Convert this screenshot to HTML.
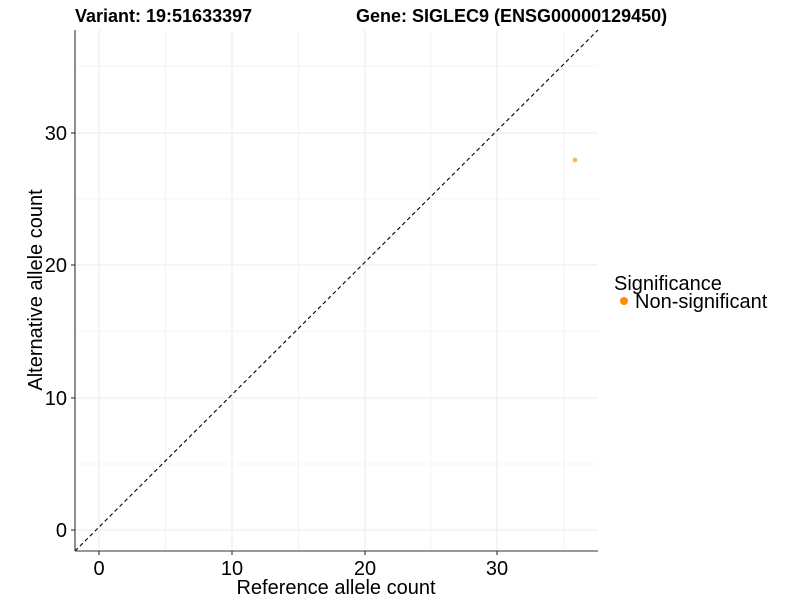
<!DOCTYPE html>
<html><head><style>body{margin:0;background:#fff}</style></head><body>
<svg width="800" height="600" xmlns="http://www.w3.org/2000/svg" font-family="Liberation Sans, Arial, sans-serif">
<rect width="800" height="600" fill="#fff"/>
<g stroke="#ebebeb" stroke-width="0.6">
<line x1="75" x2="598" y1="66" y2="66"/><line x1="75" x2="598" y1="199" y2="199"/><line x1="75" x2="598" y1="331" y2="331"/><line x1="75" x2="598" y1="464" y2="464"/>
<line y1="30" y2="551" x1="165.5" x2="165.5"/><line y1="30" y2="551" x1="298.5" x2="298.5"/><line y1="30" y2="551" x1="431" x2="431"/><line y1="30" y2="551" x1="564" x2="564"/>
</g>
<g stroke="#ebebeb" stroke-width="1.1">
<line x1="75" x2="598" y1="530" y2="530"/><line x1="75" x2="598" y1="398" y2="398"/><line x1="75" x2="598" y1="265" y2="265"/><line x1="75" x2="598" y1="133" y2="133"/>
<line y1="30" y2="551" x1="99" x2="99"/><line y1="30" y2="551" x1="232" x2="232"/><line y1="30" y2="551" x1="365" x2="365"/><line y1="30" y2="551" x1="497" x2="497"/>
</g>
<line x1="75" y1="551" x2="598" y2="30" stroke="#000" stroke-width="1.1" stroke-dasharray="4,3"/>
<circle cx="575" cy="160" r="2.5" fill="#ffa53f" opacity="0.8"/>
<g stroke="#333" stroke-width="1.1">
<line x1="75" y1="30" x2="75" y2="551"/><line x1="75" y1="551" x2="598" y2="551"/>
<line x1="71" x2="75" y1="530" y2="530"/><line x1="71" x2="75" y1="398" y2="398"/><line x1="71" x2="75" y1="265" y2="265"/><line x1="71" x2="75" y1="133" y2="133"/>
<line y1="551" y2="555" x1="99" x2="99"/><line y1="551" y2="555" x1="232" x2="232"/><line y1="551" y2="555" x1="365" x2="365"/><line y1="551" y2="555" x1="497" x2="497"/>
</g>
<g font-size="20" fill="#000" text-anchor="end">
<text x="67" y="537">0</text><text x="67" y="405">10</text><text x="67" y="272">20</text><text x="67" y="140">30</text>
</g>
<g font-size="20" fill="#000" text-anchor="middle">
<text x="99" y="575">0</text><text x="232" y="575">10</text><text x="365" y="575">20</text><text x="497" y="575">30</text>
</g>
<text x="336" y="594" font-size="20" text-anchor="middle">Reference allele count</text>
<text transform="translate(42,290) rotate(-90)" font-size="20" text-anchor="middle">Alternative allele count</text>
<text x="75" y="22" font-size="18" font-weight="bold">Variant: 19:51633397</text>
<text x="356" y="22" font-size="18" font-weight="bold">Gene: SIGLEC9 (ENSG00000129450)</text>
<text x="614" y="290" font-size="20">Significance</text>
<circle cx="624" cy="301" r="4" fill="#ff8c00"/>
<text x="635" y="308" font-size="20">Non-significant</text>
</svg>
</body></html>
